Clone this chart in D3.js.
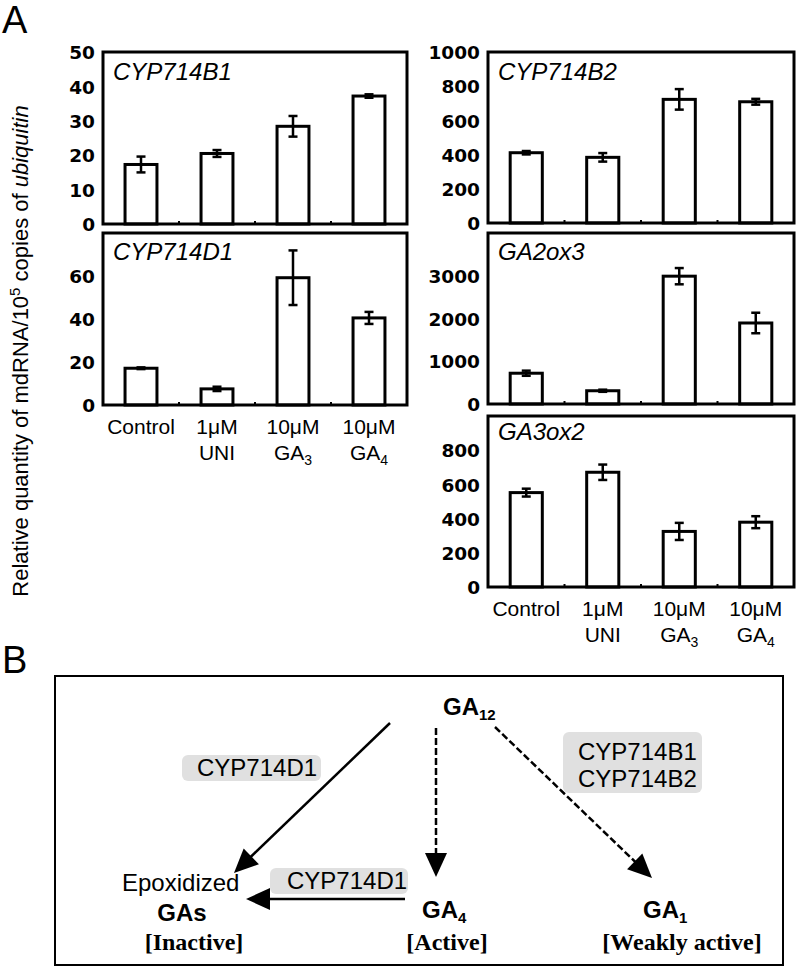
<!DOCTYPE html>
<html>
<head>
<meta charset="utf-8">
<script src="https://cdn.jsdelivr.net/npm/d3@7"></script>
<style>
  body { margin: 0; background: #fff; }
  text { fill: #000; }
</style>
</head>
<body>
<script>
// categories and x labels
const categories = ["Control", "1μM UNI", "10μM GA3", "10μM GA4"];
const labelLine1 = ["Control", "1μM", "10μM", "10μM"];
const labelLine2 = ["", "UNI", "GA", "GA"];
const labelSub = ["", "", "3", "4"];

// relative quantity (mean) and error per gene
const cyp714b1 = [17.3, 20.5, 28.4, 37.2];
const cyp714b1Err = [2.3, 1.0, 3.0, 0.5];
const cyp714d1 = [17.1, 7.5, 59.2, 40.5];
const cyp714d1Err = [0.4, 1.0, 12.7, 2.8];
const cyp714b2 = [411, 384, 723, 709];
const cyp714b2Err = [10, 25, 60, 17];
const ga2ox3 = [720, 310, 2990, 1895];
const ga2ox3Err = [60, 25, 190, 240];
const ga3ox2 = [552, 671, 325, 379];
const ga3ox2Err = [23, 45, 50, 35];

// tick labels
const ticksB1 = [0, 10, 20, 30, 40, 50];
const ticksD1 = [0, 20, 40, 60];
const ticksB2 = [0, 200, 400, 600, 800, 1000];
const ticksGA2 = [0, 1000, 2000, 3000];
const ticksGA3 = [0, 200, 400, 600, 800];

const panels = [
  {title: "CYP714B1", values: cyp714b1, errors: cyp714b1Err, max: 50, ticks: ticksB1,
   left: 103, right: 407, top: 52, bottom: 224, titleDy: 28, xLabels: false},
  {title: "CYP714D1", values: cyp714d1, errors: cyp714d1Err, max: 80, ticks: ticksD1,
   left: 103, right: 407, top: 233, bottom: 405, titleDy: 27, xLabels: true},
  {title: "CYP714B2", values: cyp714b2, errors: cyp714b2Err, max: 1000, ticks: ticksB2,
   left: 488, right: 794, top: 52, bottom: 223, titleDy: 28, xLabels: false},
  {title: "GA2ox3", values: ga2ox3, errors: ga2ox3Err, max: 4000, ticks: ticksGA2,
   left: 488, right: 794, top: 233, bottom: 404, titleDy: 27, xLabels: false},
  {title: "GA3ox2", values: ga3ox2, errors: ga3ox2Err, max: 1000, ticks: ticksGA3,
   left: 488, right: 794, top: 416, bottom: 587, titleDy: 24, xLabels: true}
];

const sans = "Liberation Sans, Arial, Helvetica, sans-serif";
const serif = "Liberation Serif, Times New Roman, serif";

const svg = d3.select("body").append("svg")
  .attr("width", 799)
  .attr("height", 968);

// panel letters
svg.append("text").attr("x", 2).attr("y", 33)
  .attr("font-family", sans).attr("font-size", 38).text("A");
svg.append("text").attr("x", 2).attr("y", 673)
  .attr("font-family", sans).attr("font-size", 38).text("B");

// shared y title
const yTitle = svg.append("text")
  .attr("transform", "translate(28,351) rotate(-90)")
  .attr("text-anchor", "middle")
  .attr("font-family", sans)
  .attr("font-size", 22);
yTitle.append("tspan").text("Relative quantity of mdRNA/10");
yTitle.append("tspan").attr("font-size", 15).attr("dy", -8).text("5");
yTitle.append("tspan").attr("dy", 8).text(" copies of ");
yTitle.append("tspan").attr("font-style", "italic").text("ubiquitin");

panels.forEach(p => {
  const x = d3.scaleBand().domain(categories).range([p.left, p.right]).padding(0);
  const y = d3.scaleLinear().domain([0, p.max]).range([p.bottom, p.top]);
  const bw = x.bandwidth() * 0.42;
  const g = svg.append("g");

  // y tick labels
  g.append("g")
    .attr("transform", "translate(" + p.left + ",0)")
    .call(d3.axisLeft(y).tickValues(p.ticks).tickFormat(d3.format("d")).tickSize(0).tickPadding(8))
    .call(a => a.select(".domain").remove())
    .selectAll("text")
    .attr("font-family", "DejaVu Sans, sans-serif")
    .attr("font-weight", "bold")
    .attr("font-size", 18.5)
    .attr("dy", "0.36em")
    .attr("fill", "#000");

  // bars
  g.selectAll(".bar")
    .data(p.values)
    .enter().append("rect")
    .attr("class", "bar")
    .attr("x", (d, i) => x(categories[i]) + (x.bandwidth() - bw) / 2)
    .attr("y", d => y(d))
    .attr("width", bw)
    .attr("height", d => p.bottom - y(d))
    .attr("fill", "#fff")
    .attr("stroke", "#000")
    .attr("stroke-width", 3);

  // frame
  g.append("rect")
    .attr("x", p.left).attr("y", p.top)
    .attr("width", p.right - p.left).attr("height", p.bottom - p.top)
    .attr("fill", "none").attr("stroke", "#000").attr("stroke-width", 3);

  // small ticks between groups
  g.selectAll(".xtick")
    .data(categories.slice(1))
    .enter().append("line")
    .attr("x1", d => x(d)).attr("x2", d => x(d))
    .attr("y1", p.bottom).attr("y2", p.bottom - 3)
    .attr("stroke", "#000").attr("stroke-width", 2);

  // error bars
  const eb = g.selectAll(".err")
    .data(p.values)
    .enter().append("g");
  const cx = i => x(categories[i]) + x.bandwidth() / 2;
  eb.append("line")
    .attr("x1", (d, i) => cx(i)).attr("x2", (d, i) => cx(i))
    .attr("y1", (d, i) => y(d - p.errors[i])).attr("y2", (d, i) => y(d + p.errors[i]))
    .attr("stroke", "#000").attr("stroke-width", 2.5);
  [-1, 1].forEach(s => {
    eb.append("line")
      .attr("x1", (d, i) => cx(i) - 4.5).attr("x2", (d, i) => cx(i) + 4.5)
      .attr("y1", (d, i) => y(d + s * p.errors[i])).attr("y2", (d, i) => y(d + s * p.errors[i]))
      .attr("stroke", "#000").attr("stroke-width", 2.5);
  });

  // gene name
  g.append("text")
    .attr("x", p.left + 10).attr("y", p.top + p.titleDy)
    .attr("font-family", sans).attr("font-style", "italic").attr("font-size", 24)
    .text(p.title);

  // category labels
  if (p.xLabels) {
    categories.forEach((c, i) => {
      const tx = x(c) + x.bandwidth() / 2;
      g.append("text").attr("x", tx).attr("y", p.bottom + 29)
        .attr("text-anchor", "middle").attr("font-family", sans).attr("font-size", 21)
        .text(labelLine1[i]);
      if (labelLine2[i]) {
        const t = g.append("text").attr("x", tx).attr("y", p.bottom + 55)
          .attr("text-anchor", "middle").attr("font-family", sans).attr("font-size", 21);
        t.append("tspan").text(labelLine2[i]);
        if (labelSub[i]) t.append("tspan").attr("font-size", 14).attr("dy", 5).text(labelSub[i]);
      }
    });
  }
});

// ---- panel B: pathway scheme ----
const b = svg.append("g");
b.append("rect").attr("x", 55).attr("y", 676).attr("width", 728).attr("height", 289)
  .attr("fill", "none").attr("stroke", "#000").attr("stroke-width", 2);

const arrows = [
  {x1: 390, y1: 723, x2: 234, y2: 873, dash: null},
  {x1: 436, y1: 728, x2: 436, y2: 877, dash: "7,3"},
  {x1: 495, y1: 727, x2: 652, y2: 878, dash: "7,3"},
  {x1: 405, y1: 899, x2: 246, y2: 899, dash: null}
];
const headLen = 24, headHalf = 11;
arrows.forEach(a => {
  const dx = a.x2 - a.x1, dy = a.y2 - a.y1, len = Math.hypot(dx, dy);
  const ux = dx / len, uy = dy / len;
  const bx = a.x2 - ux * headLen, by = a.y2 - uy * headLen;
  b.append("line")
    .attr("x1", a.x1).attr("y1", a.y1).attr("x2", bx + ux * 2).attr("y2", by + uy * 2)
    .attr("stroke", "#000").attr("stroke-width", 2.5)
    .attr("stroke-dasharray", a.dash);
  b.append("path")
    .attr("d", "M" + a.x2 + "," + a.y2 +
      "L" + (bx - uy * headHalf) + "," + (by + ux * headHalf) +
      "L" + (bx + uy * headHalf) + "," + (by - ux * headHalf) + "Z")
    .attr("fill", "#000");
});

// enzyme labels on grey boxes
const boxes = [
  {x: 182, y: 755, w: 139, h: 26, lines: ["CYP714D1"], tx: 197, ty: 776},
  {x: 270, y: 868, w: 138, h: 26, lines: ["CYP714D1"], tx: 287, ty: 889},
  {x: 563, y: 732, w: 139, h: 61, lines: ["CYP714B1", "CYP714B2"], tx: 578, ty: 760}
];
boxes.forEach(bx => {
  b.append("rect").attr("x", bx.x).attr("y", bx.y).attr("width", bx.w).attr("height", bx.h)
    .attr("rx", 6).attr("fill", "#e0e0e0");
  bx.lines.forEach((l, i) => {
    b.append("text").attr("x", bx.tx).attr("y", bx.ty + i * 27)
      .attr("font-family", sans).attr("font-size", 24).text(l);
  });
});

function gaLabel(x, y, sub, anchor) {
  const t = b.append("text").attr("x", x).attr("y", y)
    .attr("text-anchor", anchor || "start")
    .attr("font-family", sans).attr("font-weight", "bold").attr("font-size", 24);
  t.append("tspan").text("GA");
  if (sub) t.append("tspan").attr("font-size", 15).attr("dy", 5).text(sub);
  return t;
}
gaLabel(443, 715, "12");
gaLabel(422, 918, "4");
gaLabel(643, 918, "1");
b.append("text").attr("x", 182).attr("y", 921).attr("text-anchor", "middle")
  .attr("font-family", sans).attr("font-weight", "bold").attr("font-size", 24).text("GAs");

b.append("text").attr("x", 122).attr("y", 891)
  .attr("font-family", sans).attr("font-size", 24).text("Epoxidized");

[["[Inactive]", 194], ["[Active]", 447], ["[Weakly active]", 682]].forEach(d => {
  b.append("text").attr("x", d[1]).attr("y", 950).attr("text-anchor", "middle")
    .attr("font-family", serif).attr("font-weight", "bold").attr("font-size", 24).text(d[0]);
});
</script>
</body>
</html>
